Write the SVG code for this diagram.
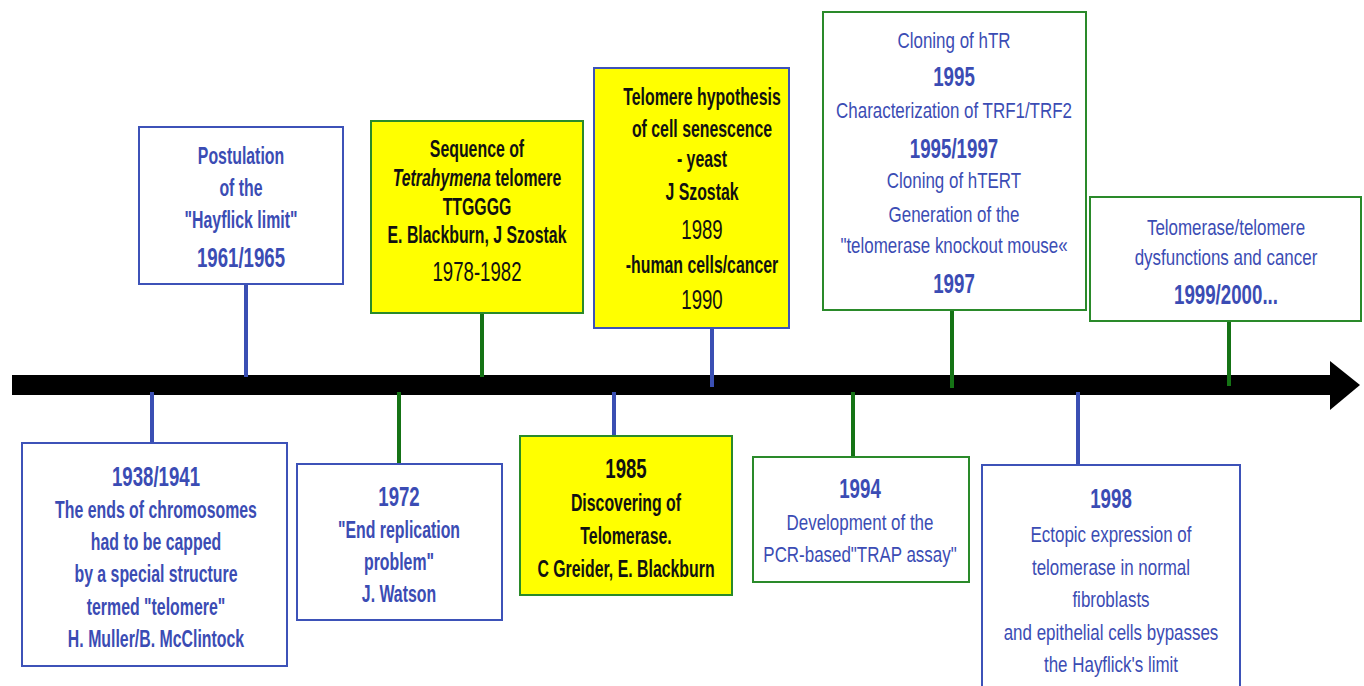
<svg xmlns="http://www.w3.org/2000/svg" width="1364" height="686" viewBox="0 0 1364 686">
<style>
.t{font-family:"Liberation Sans",Arial,sans-serif;text-anchor:middle;font-size:22px}
.b{font-weight:bold}
.tb{font-size:23px}
.yr{font-size:27px}
.blue{fill:#3b4cb4}
.blk{fill:#111}
.bxb{fill:#fff;stroke:#3d52b8;stroke-width:2}
.bxg{fill:#fff;stroke:#2a8a2a;stroke-width:2}
.yb{fill:#ffff00;stroke:#3d52b8;stroke-width:2}
.yg{fill:#ffff00;stroke:#2a8a2a;stroke-width:2}
.cb{stroke:#3a4fb3;stroke-width:4;fill:none}
.cg{stroke:#157315;stroke-width:4;fill:none}
</style>
<rect width="1364" height="686" fill="#fff"/>
<g id="axis">
<rect x="12" y="375" width="1320" height="20" fill="#000"/>
<polygon points="1330,361 1360,385 1330,410" fill="#000"/>
</g>
<g id="connectors">
<line class="cb" x1="152" y1="392" x2="152" y2="443"/>
<line class="cb" x1="246" y1="284" x2="246" y2="377"/>
<line class="cg" x1="399" y1="392" x2="399" y2="464"/>
<line class="cg" x1="482" y1="313" x2="482" y2="377"/>
<line class="cb" x1="614" y1="392" x2="614" y2="436"/>
<line class="cb" x1="712" y1="328" x2="712" y2="387"/>
<line class="cg" x1="853" y1="392" x2="853" y2="457"/>
<line class="cg" x1="952" y1="310" x2="952" y2="388"/>
<line class="cb" x1="1078" y1="392" x2="1078" y2="465"/>
<line class="cg" x1="1229" y1="320" x2="1229" y2="386"/>
</g>
<g id="n1938">
<rect class="bxb" x="22" y="443" width="265" height="223"/>
<g transform="translate(156,0) scale(0.69,1)" class="t tb blue b">
<text class="yr" x="0" y="486">1938/1941</text>
<text x="0" y="518">The ends of chromosomes</text>
<text x="0" y="550">had to be capped</text>
<text x="0" y="582">by a special structure</text>
<text x="0" y="615">termed "telomere"</text>
<text x="0" y="647">H. Muller/B. McClintock</text>
</g>
</g>
<g id="n1961">
<rect class="bxb" x="139" y="127" width="204" height="157"/>
<g transform="translate(241,0) scale(0.69,1)" class="t tb blue b">
<text x="0" y="164">Postulation</text>
<text x="0" y="196">of the</text>
<text x="0" y="228">"Hayflick limit"</text>
<text class="yr" x="0" y="267">1961/1965</text>
</g>
</g>
<g id="n1972">
<rect class="bxb" x="297" y="464" width="205" height="156"/>
<g transform="translate(399,0) scale(0.69,1)" class="t tb blue b">
<text class="yr" x="0" y="506">1972</text>
<text x="0" y="538">"End replication</text>
<text x="0" y="570">problem"</text>
<text x="0" y="602">J. Watson</text>
</g>
</g>
<g id="n1978">
<rect class="yg" x="371" y="121" width="212" height="192"/>
<g transform="translate(477,0) scale(0.69,1)" class="t tb blk">
<text class="b" x="0" y="157">Sequence of</text>
<text class="b" x="0" y="186"><tspan font-style="italic">Tetrahymena</tspan> telomere</text>
<text class="b" x="0" y="215">TTGGGG</text>
<text class="b" x="0" y="243">E. Blackburn, J Szostak</text>
<text class="yr" x="0" y="281">1978-1982</text>
</g>
</g>
<g id="n1985">
<rect class="yg" x="520" y="436" width="212" height="159"/>
<g transform="translate(626,0) scale(0.69,1)" class="t tb blk b">
<text class="yr" x="0" y="478">1985</text>
<text x="0" y="511">Discovering of</text>
<text x="0" y="544">Telomerase.</text>
<text x="0" y="577">C Greider, E. Blackburn</text>
</g>
</g>
<g id="n1989">
<rect class="yb" x="594" y="68" width="195" height="260"/>
<g transform="translate(702,0) scale(0.69,1)" class="t tb blk">
<text class="b" x="0" y="105">Telomere hypothesis</text>
<text class="b" x="0" y="137">of cell senescence</text>
<text class="b" x="0" y="167">- yeast</text>
<text class="b" x="0" y="200">J Szostak</text>
<text class="yr" x="0" y="239">1989</text>
<text class="b" x="0" y="273">-human cells/cancer</text>
<text class="yr" x="0" y="309">1990</text>
</g>
</g>
<g id="n1994">
<rect class="bxg" x="753" y="457" width="216" height="125"/>
<g transform="translate(860,0) scale(0.77,1)" class="t blue">
<text class="yr b" x="0" y="498" transform="scale(0.9,1)">1994</text>
<text x="0" y="530">Development of the</text>
<text x="0" y="562">PCR-based"TRAP assay"</text>
</g>
</g>
<g id="n1995">
<rect class="bxg" x="823" y="12" width="263" height="298"/>
<g transform="translate(954,0) scale(0.77,1)" class="t blue">
<text x="0" y="48">Cloning of hTR</text>
<text class="yr b" x="0" y="86" transform="scale(0.9,1)">1995</text>
<text x="0" y="118">Characterization of TRF1/TRF2</text>
<text class="yr b" x="0" y="158" transform="scale(0.9,1)">1995/1997</text>
<text x="0" y="188">Cloning of hTERT</text>
<text x="0" y="222">Generation of the</text>
<text x="0" y="253">"telomerase knockout mouse«</text>
<text class="yr b" x="0" y="293" transform="scale(0.9,1)">1997</text>
</g>
</g>
<g id="n1998">
<rect class="bxb" x="982" y="465" width="258" height="240"/>
<g transform="translate(1111,0) scale(0.77,1)" class="t blue">
<text class="yr b" x="0" y="508" transform="scale(0.9,1)">1998</text>
<text x="0" y="542">Ectopic expression of</text>
<text x="0" y="575">telomerase in normal</text>
<text x="0" y="607">fibroblasts</text>
<text x="0" y="640">and epithelial cells bypasses</text>
<text x="0" y="672">the Hayflick's limit</text>
</g>
</g>
<g id="n1999">
<rect class="bxg" x="1090" y="197" width="271" height="124"/>
<g transform="translate(1226,0) scale(0.77,1)" class="t blue">
<text x="0" y="235">Telomerase/telomere</text>
<text x="0" y="265">dysfunctions and cancer</text>
<text class="yr b" x="0" y="304" transform="scale(0.9,1)">1999/2000...</text>
</g>
</g>
</svg>
